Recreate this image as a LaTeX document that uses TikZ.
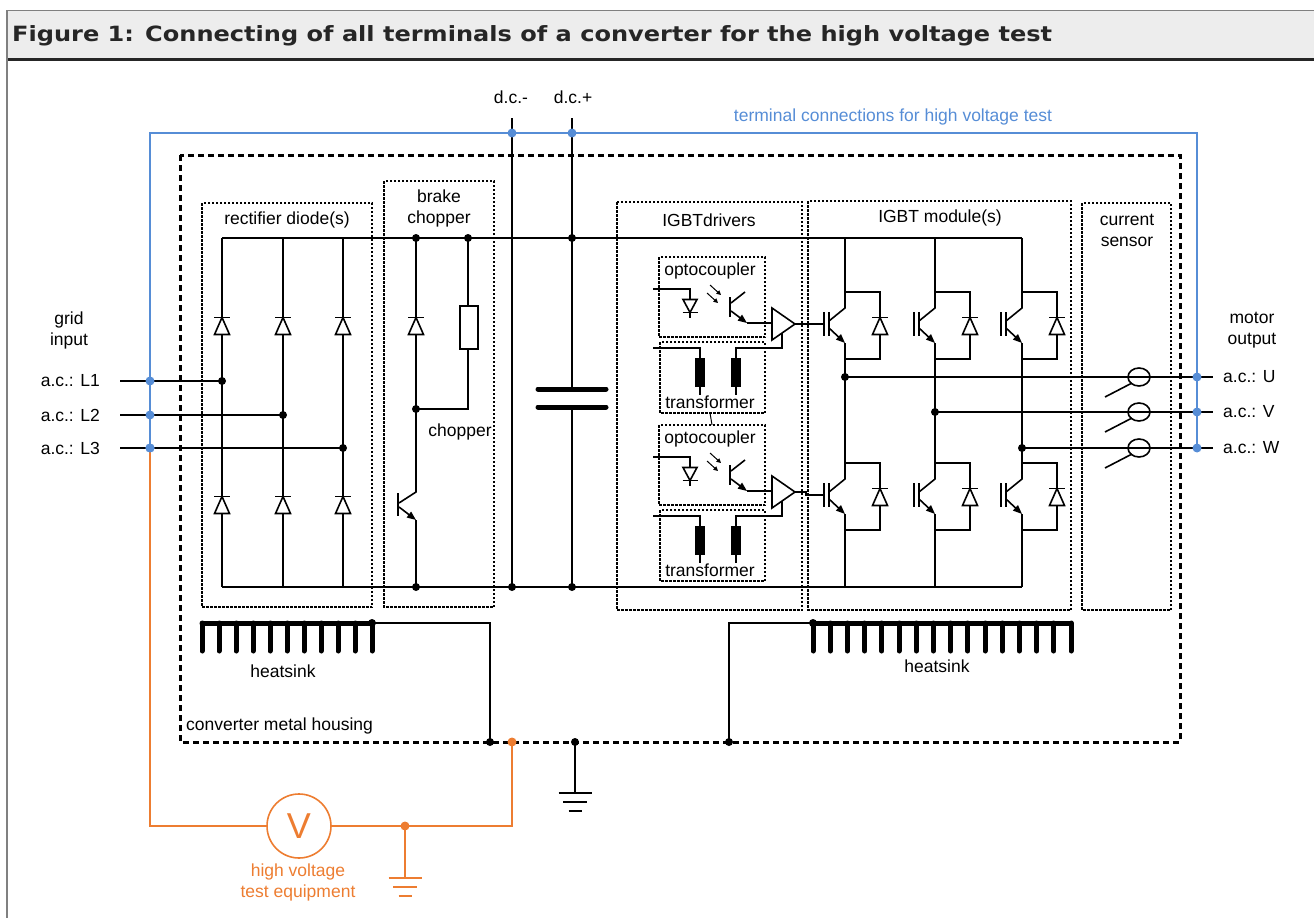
\documentclass[tikz,border=0pt]{standalone}
\usepackage{fontspec}
\setmainfont{Liberation Sans}
\newfontfamily\titlefont{DejaVu Sans}[FakeStretch=1.145]
\usetikzlibrary{arrows.meta}
\definecolor{hvblue}{RGB}{86,141,214}
\definecolor{hvorange}{RGB}{237,125,49}
\definecolor{barfill}{RGB}{237,237,237}
\tikzset{
  wire/.style={line width=1.6pt},
  groupbox/.style={line width=1.2pt, dash pattern=on 2.5pt off 1.5pt},
  housing/.style={line width=3pt, dash pattern=on 6pt off 4pt},
  lbl/.style={font=\fontsize{17.5}{21}\selectfont, inner sep=0pt, align=center},
  fin/.style={line width=5pt, line cap=round},
  tip/.style={-{Triangle[length=9pt,width=7pt]}},
  updiode/.pic={
    \draw[wire, fill=white] (-7.5,8.5) -- (7.5,8.5) -- (0,-8.5) -- cycle;
    \draw[wire] (-8,-8.5) -- (8,-8.5);
  },
  downdiode/.pic={
    \draw[wire, fill=white] (-7,-6.5) -- (7,-6.5) -- (0,6.5) -- cycle;
    \draw[wire] (-7.5,6.5) -- (7.5,6.5);
  },
  igbt/.pic={
    \draw[wire] (0,-34) -- (35,-34) -- (35,33) -- (0,33) -- (0,17);
    \draw[wire] (0,-34) -- (0,-18) -- (-16,-5);
    \draw[wire, tip] (-16,2) -- (0,17);
    \draw[wire] (-16,-14) -- (-16,10);
    \draw[wire] (-21,-14) -- (-21,10);
    \path (35,0) pic {updiode};
    \coordinate (-gate) at (-21,-2);
  },
  gnd/.pic={
    \draw[wire] (-16.5,0) -- (16.5,0) (-12,9) -- (12,9) (-6.5,18) -- (6.5,18);
  }
}
\begin{document}
\begin{tikzpicture}[x=1pt, y=-1pt]
  \useasboundingbox (0,0) rectangle (1314,918);
  % title bar
  \fill[barfill] (7,11) rectangle (1314,59);
  \draw[gray, line width=1.5pt] (7,10.5) -- (1314,10.5);
  \draw[black!85, line width=2.2pt] (7,59.5) -- (1314,59.5);
  \draw[gray, line width=2pt] (7,10) -- (7,918);
  \node[anchor=west, inner sep=0pt, font=\titlefont\bfseries\fontsize{21}{25}\selectfont, text=black!85] (title) at (12,36)
    {Figure 1: Connecting of all terminals of a converter for the high voltage test};

  % housing and groups
  \draw[housing] (180,155) rectangle (1180,742);
  \draw[groupbox] (202,203) rectangle (372,607);
  \draw[groupbox] (384,181) rectangle (494,607);
  \draw[groupbox] (617,202) rectangle (802,610);
  \draw[groupbox] (808,201) rectangle (1071,610);
  \draw[groupbox] (1082,203) rectangle (1171,610);
  \node[lbl] (rectlbl) at (287,220) {rectifier diode(s)};
  \node[lbl] (brakelbl) at (439,208) {brake\\chopper};
  \node[lbl] (drvlbl) at (709,220) {IGBTdrivers};
  \node[lbl] (modlbl) at (940,218) {IGBT module(s)};
  \node[lbl] (senslbl) at (1127,230) {current\\sensor};
  \node[lbl] (gridlbl) at (69,330) {grid\\input};
  \node[lbl] (motorlbl) at (1252,330) {motor\\output};
  \node[lbl] (choplbl) at (460,432) {chopper};
  \node[lbl, anchor=west] (houslbl) at (186,726) {converter metal housing};
  \node[lbl] (sinkA) at (283,671) {heatsink};
  \node[lbl] (sinkB) at (937,666) {heatsink};
  \node[lbl] (dcm) at (511,97) {d.c.-};
  \node[lbl] (dcp) at (573,97) {d.c.+};

  % blue test connections
  \draw[hvblue, wire] (150,448) -- (150,133) -- (1197,133) -- (1197,448);
  \node[lbl, text=hvblue] (hvlbl) at (893,117) {terminal connections for high voltage test};

  % rails
  \coordinate (topL) at (222,238); \coordinate (topR) at (1022,238);
  \coordinate (botL) at (222,587); \coordinate (botR) at (1022,587);
  \draw[wire] (topL) -- (topR);
  \draw[wire] (botL) -- (botR);

  % rectifier
  \foreach \x/\y/\n in {222/381/1, 283/415/2, 343/448/3} {
    \node[lbl, anchor=east] (L\n) at (100,\y) {a.c.: L\n};
    \draw[wire] (\x,238) -- (\x,587);
    \path (\x,326) pic {updiode} (\x,505) pic {updiode};
    \draw[wire] ([xshift=20pt]L\n.east) -- (\x,\y);
    \fill (\x,\y) circle (4);
    \fill[hvblue] (150,\y) circle (4.5);
  }

  % brake chopper
  \draw[wire] (416,238) -- (416,492) -- (399,503);
  \draw[wire, tip] (399,507) -- (416,520);
  \draw[wire] (416,520) -- (416,587);
  \draw[wire] (398,493) -- (398,516);
  \path (416,326) pic {updiode};
  \draw[wire] (468,238) -- (468,409) -- (416,409);
  \draw[wire, fill=white] (460,306) rectangle (478,349);

  % d.c. link
  \draw[wire] (512,118) -- (512,587);
  \draw[wire] (572,118) -- (572,389);
  \draw[wire] (572,407) -- (572,587);
  \draw[line width=5pt, line cap=round] (538,389) -- (606,389);
  \draw[line width=5pt, line cap=round] (538,407) -- (606,407);
  \foreach \p in {(416,238),(468,238),(572,238),(416,409),(416,587),(512,587),(572,587)}
    \fill \p circle (4);
  \foreach \p in {(512,133),(572,133)}
    \fill[hvblue] \p circle (4.5);

  % IGBT drivers
  \foreach \s in {0,168} {
    \begin{scope}[shift={(0,\s)}]
      \draw[groupbox] (659,257) rectangle (765,337);
      \draw[groupbox] (660,342) rectangle (765,413);
      \node[lbl] (opto\s) at (710,271) {optocoupler};
      \node[lbl] (trafo\s) at (710,402) {transformer};
      \draw[wire] (653,289) -- (690,289) -- (690,318);
      \path (690,306) pic {downdiode};
      \draw[line width=1pt, -{Triangle[length=4.5pt,width=4.5pt]}] (710,285) -- (721,295);
      \draw[line width=1pt, -{Triangle[length=4.5pt,width=4.5pt]}] (707,293) -- (718,303);
      \draw[wire] (730,297) -- (730,317);
      \draw[wire] (745,292) -- (731,303);
      \draw[wire, tip] (731,311) -- (747,323);
      \draw[wire] (747,323) -- (772,323);
      \draw[wire, fill=white] (772,308) -- (772,340) -- (795,324) -- cycle;
      \draw[wire] (782,333) -- (782,348) -- (736,348) -- (736,395);
      \draw[wire] (653,348) -- (700,348) -- (700,395);
      \fill (695,358) rectangle (705,387);
      \fill (731,358) rectangle (741,387);
    \end{scope}
  }
  \draw[line width=1pt] (710,413) -- (712,425);

  % IGBT modules and outputs
  \foreach \x/\n/\y/\ph in {845/1/377/U, 935/2/412/V, 1022/3/448/W} {
    \path (\x,326) pic (up\n) {igbt} (\x,497) pic (lo\n) {igbt};
    \draw[wire] (\x,238) -- (\x,292);
    \draw[wire] (\x,359) -- (\x,463);
    \draw[wire] (\x,530) -- (\x,587);
    \node[lbl, anchor=west] (out\ph) at (1223,\y) {a.c.: \ph};
    \draw[wire] (\x,\y) -- ([xshift=-10pt]out\ph.west);
    \fill (\x,\y) circle (4);
    \draw[wire] (1139,\y) ellipse [x radius=11, y radius=9];
    \draw[wire] (1132,\y+6) -- (1105,\y+20);
    \fill[hvblue] (1197,\y) circle (4.5);
  }
  \draw[wire] (795,324) -- (up1-gate);
  \draw[wire] (795,492) -- (806,492) -- (806,495) -- (lo1-gate);

  % heatsinks
  \draw[line width=5pt, line cap=round] (202,623) -- (372,623);
  \foreach \i in {0,...,10}
    \draw[fin] ({202+17*\i},623) -- ++(0,28);
  \draw[line width=5pt, line cap=round] (813,623) -- (1071,623);
  \foreach \i in {0,...,15}
    \draw[fin] ({813+17.2*\i},623) -- ++(0,28);
  \draw[wire] (372,623) -- (490,623) -- (490,742);
  \draw[wire] (813,623) -- (729,623) -- (729,742);
  \draw[wire] (575,742) -- (575,793);
  \path (575,793) pic {gnd};
  \foreach \p in {(372,623),(813,623),(490,742),(575,742),(729,742)}
    \fill \p circle (4);

  % high voltage test equipment
  \node[circle, draw=hvorange, wire, minimum size=64pt, inner sep=0pt, text=hvorange,
    font=\fontsize{36}{36}\selectfont] (meter) at (299,826) {V};
  \node[lbl, text=hvorange] (hvequip) at (298,882) {high voltage\\test equipment};
  \draw[hvorange, wire] (150,448) -- (150,826) -- (meter.west);
  \draw[hvorange, wire] (meter.east) -- (512,826) -- (512,742);
  \draw[hvorange, wire] (405,826) -- (405,878);
  \path (405,878) pic[color=hvorange] {gnd};
  \fill[hvorange] (512,742) circle (4.5) (405,826) circle (4.5);
  \fill[hvblue] (150,448) circle (4.5);
\end{tikzpicture}
\end{document}
